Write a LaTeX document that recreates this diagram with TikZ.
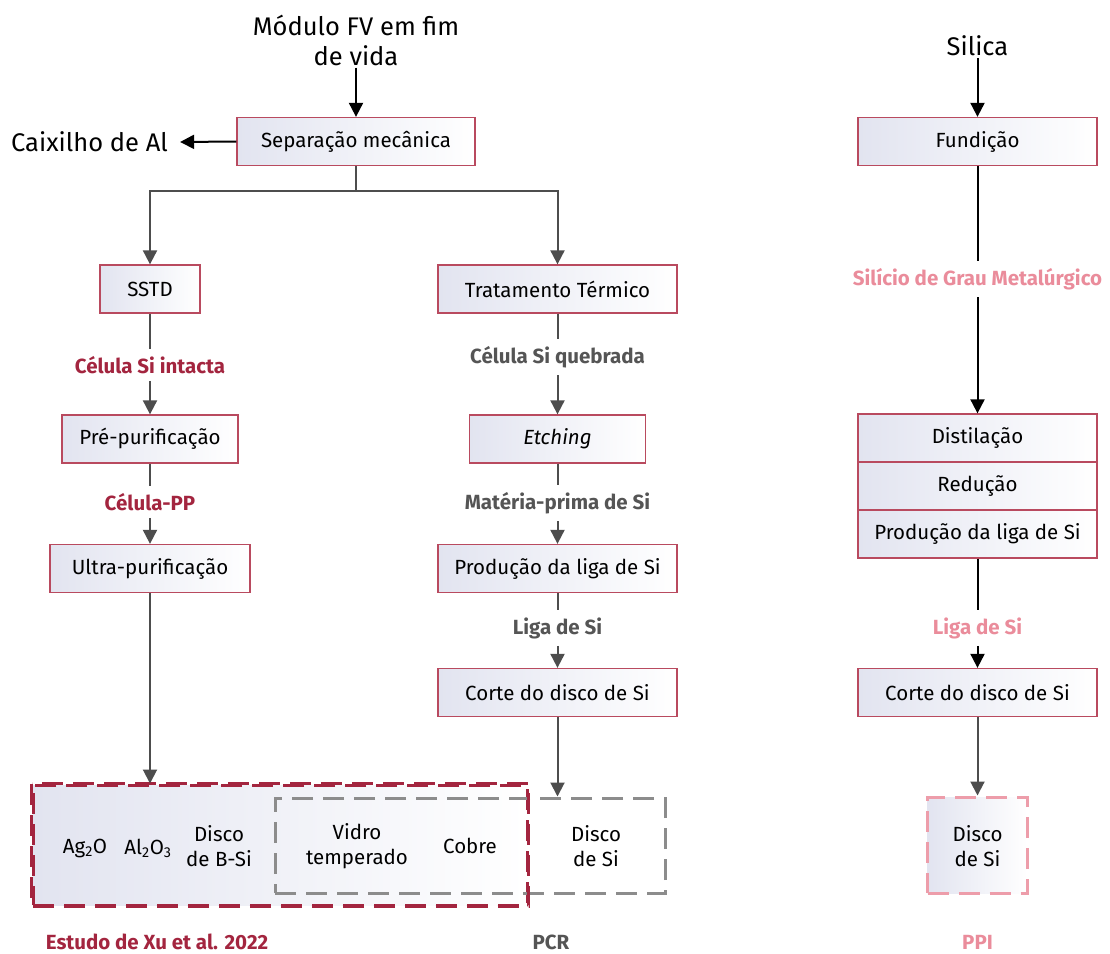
\documentclass[tikz,border=0pt]{standalone}
\usepackage{fontspec}
\setmainfont{Fira Sans}
\usetikzlibrary{arrows.meta}

\definecolor{crim}{HTML}{A3253F}
\definecolor{boxline}{HTML}{B94A5F}
\definecolor{lblgray}{HTML}{555555}
\definecolor{pinkc}{HTML}{EA8C9B}
\definecolor{dashgray}{HTML}{8C8C8C}
\definecolor{shadeA}{HTML}{E2E4F0}
\definecolor{arrgray}{HTML}{4D4D4D}

\tikzset{
  x=1pt, y=-1pt,
  proc/.style={draw=boxline, line width=1.3pt, minimum height=48pt, inner sep=0pt,
    font=\fontsize{20.5}{25}\selectfont, left color=shadeA, right color=white, text=black},
  plain/.style={font=\fontsize{20.5}{25}\selectfont, align=center, inner sep=0pt},
  big/.style={font=\fontsize{25.5}{30}\selectfont, align=center, inner sep=2pt},
  flowlbl/.style={font=\fontsize{20.5}{22}\selectfont\bfseries, inner xsep=2pt, inner ysep=7pt},
  grouplbl/.style={font=\fontsize{20.5}{22}\selectfont\bfseries, inner sep=0pt},
  link/.style={line width=2pt, draw=arrgray},
  arr/.style={link, -{Triangle[length=14pt,width=14pt]}},
  arrblk/.style={line width=2pt, draw=black, -{Triangle[length=14pt,width=14pt]}},
  linkblk/.style={line width=2pt, draw=black},
  grp/.style={line width=3pt, dash pattern=on 21pt off 10pt},
}

\begin{document}
\begin{tikzpicture}
\useasboundingbox (0,0) rectangle (1110,953);

% ---------- left and middle chains ----------
\node[big] (mod) at (356,40) {Módulo FV em fim\\de vida};
\node[proc, minimum width=238pt] (sep) at (356,141.5) {Separação mecânica};
\node[big, anchor=west, inner xsep=0pt] (cax) at (11,142) {Caixilho de Al\hspace{12pt}};

\node[proc, minimum width=100pt] (sstd) at (150,289) {SSTD};
\node[proc, minimum width=239pt] (trat) at (557.5,289) {Tratamento Térmico};

\node[flowlbl, text=crim] (l1) at (150,365) {Célula Si intacta};
\node[proc, minimum width=176pt] (pre) at (150,439) {Pré-purificação};
\node[flowlbl, text=crim] (l2) at (150,502) {Célula-PP};
\node[proc, minimum width=200pt] (ultra) at (150,568.5) {Ultra-purificação};

\node[flowlbl, text=lblgray] (m1) at (557.5,357) {Célula Si quebrada};
\node[proc, minimum width=176pt] (etch) at (557.5,439) {\itshape Etching};
\node[flowlbl, text=lblgray] (m2) at (557.5,503) {Matéria-prima de Si};
\node[proc, minimum width=239pt] (prod) at (557.5,568.5) {Produção da liga de Si};
\node[flowlbl, text=lblgray] (m3) at (557.5,628) {Liga de Si};
\node[proc, minimum width=239pt] (corte) at (557.5,692.5) {Corte do disco de Si};

% ---------- output groups ----------
\node[grp, draw=crim, minimum width=494pt, minimum height=120pt,
      left color=shadeA, right color=white] (xu) at (280,845) {};
\node[grp, draw=dashgray, minimum width=390pt, minimum height=95pt] (pcr) at (470,845.5) {};
\draw[grp, draw=crim] (xu.north west) rectangle (xu.south east);

\node[plain] (ag) at (85,848) {Ag\textsubscript{2}O};
\node[plain] (al) at (148,848) {Al\textsubscript{2}O\textsubscript{3}};
\node[plain] (bsi) at (219,846) {Disco\\de B-Si};
\node[plain] (vid) at (357,846) {Vidro\\temperado};
\node[plain] (cob) at (470,846) {Cobre};
\node[plain] (dsi) at (596,846) {Disco\\de Si};

\node[grouplbl, text=crim] (gxu) at (157,942) {Estudo de Xu et al. 2022};
\node[grouplbl, text=lblgray] (gpcr) at (551,942) {PCR};

% ---------- right chain ----------
\node[big] (sil) at (977.5,46) {Silica};
\node[proc, minimum width=239pt] (fund) at (977.5,141.5) {Fundição};
\node[flowlbl, text=pinkc] (r1) at (977.5,279) {Silício de Grau Metalúrgico};
\node[proc, minimum width=239pt] (dist) at (977.5,438) {Distilação};
\node[proc, minimum width=239pt] (red) at (977.5,486) {Redução};
\node[proc, minimum width=239pt] (prod2) at (977.5,534) {Produção da liga de Si};
\node[flowlbl, text=pinkc] (r2) at (977.5,628) {Liga de Si};
\node[proc, minimum width=239pt] (corte2) at (977.5,692.5) {Corte do disco de Si};
\node[grp, draw=pinkc!85, minimum width=100pt, minimum height=96pt,
      left color=shadeA, right color=white] (ppi) at (977.5,845) {};
\node[plain] (dsi2) at (977.5,846) {Disco\\de Si};
\node[grouplbl, text=pinkc] (gppi) at (977.5,942) {PPI};

% ---------- connectors ----------
\draw[arrblk] (mod.south) -- (sep.north);
\draw[arrblk] (sep.west) -- (cax.east);
\coordinate (split) at (356,191);
\draw[link] (sep.south) -- (split);
\draw[arr] (split) -| (sstd.north);
\draw[arr] (split) -| (trat.north);

\draw[link] (sstd.south) -- (l1.north);
\draw[arr] (l1.south) -- (pre.north);
\draw[link] (pre.south) -- (l2.north);
\draw[arr] (l2.south) -- (ultra.north);
\draw[arr] (ultra.south) -- (ultra.south |- xu.north);

\draw[link] (trat.south) -- (m1.north);
\draw[arr] (m1.south) -- (etch.north);
\draw[link] (etch.south) -- (m2.north);
\draw[arr] (m2.south) -- (prod.north);
\draw[link] (prod.south) -- (m3.north);
\draw[arr] (m3.south) -- (corte.north);
\draw[arr] (corte.south) -- (corte.south |- pcr.north);

\draw[arrblk] (sil.south) -- (fund.north);
\draw[linkblk] (fund.south) -- (r1.north);
\draw[arrblk] (r1.south) -- (dist.north);
\draw[linkblk] (prod2.south) -- (r2.north);
\draw[arrblk] (r2.south) -- (corte2.north);
\draw[arr] (corte2.south) -- (ppi.north);
\end{tikzpicture}
\end{document}
